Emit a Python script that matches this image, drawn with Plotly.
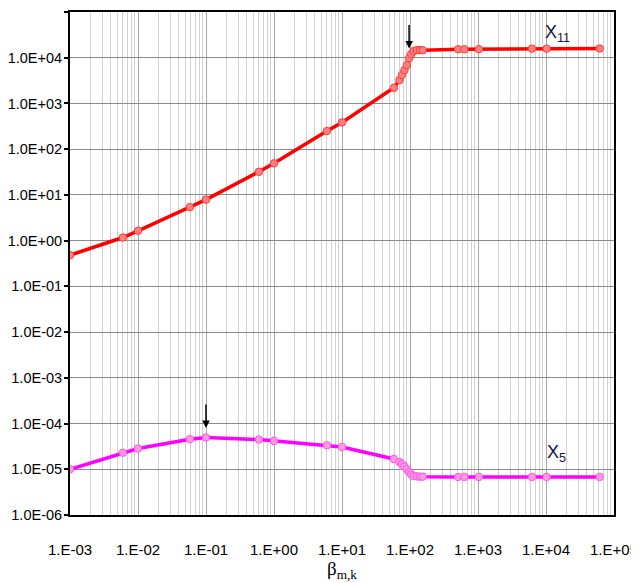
import numpy as np
import plotly.graph_objects as go

# ---- data ----
beta = [0.001, 0.006, 0.01, 0.058, 0.1, 0.6, 1.0, 6.0, 10.0,
        58, 70, 76, 83, 90, 97, 104, 113, 126, 140, 154,
        510, 630, 1030, 6200, 10200, 61600]
chi11 = [0.48, 1.17, 1.64, 5.4, 7.9, 32, 49, 249, 385,
         2200, 3250, 4170, 5360, 6890, 9700, 12000, 14000, 14700, 14700, 14600,
         15300, 15300, 15400, 15800, 15800, 15900]
chi5 = [1.0e-5, 2.3e-5, 2.84e-5, 4.54e-5, 4.94e-5, 4.47e-5, 4.17e-5, 3.35e-5, 3.08e-5,
        1.68e-5, 1.44e-5, 1.3e-5, 1.15e-5, 1.0e-5, 8.7e-6, 7.7e-6, 7.1e-6, 7.0e-6, 6.9e-6, 6.9e-6,
        6.8e-6, 6.8e-6, 6.8e-6, 6.8e-6, 6.8e-6, 6.8e-6]

x_tickvals = [1e-3, 1e-2, 1e-1, 1e0, 1e1, 1e2, 1e3, 1e4, 1e5]
x_ticktext = ["1.E-03", "1.E-02", "1.E-01", "1.E+00", "1.E+01",
              "1.E+02", "1.E+03", "1.E+04", "1.E+05"]
y_tickvals = [1e-6, 1e-5, 1e-4, 1e-3, 1e-2, 1e-1, 1e0, 1e1, 1e2, 1e3, 1e4, 1e5]
y_ticktext = ["1.0E-06", "1.0E-05", "1.0E-04", "1.0E-03", "1.0E-02", "1.0E-01",
              "1.0E+00", "1.0E+01", "1.0E+02", "1.0E+03", "1.0E+04", "1.0E+05"]

arrow_x = [97, 0.1]
arrow_y = [16000, 8.0e-5]

minor_x = [m * d for d in x_tickvals[:-1] for m in range(2, 10)]

fig = go.Figure()
fig.add_trace(go.Scatter(
    x=beta, y=chi11, mode="lines+markers", name="χ11",
    line=dict(color="#ff0000", width=3.5),
    marker=dict(size=7.5, color="#ff8080", line=dict(color="#ff3b3b", width=1)),
))
fig.add_trace(go.Scatter(
    x=beta, y=chi5, mode="lines+markers", name="χ5",
    line=dict(color="#ff00ff", width=3.5),
    marker=dict(size=7.5, color="#ff99dd", line=dict(color="#ff55ee", width=1)),
))

for ax_, ay_ in zip(arrow_x, arrow_y):
    fig.add_annotation(x=np.log10(ax_), y=np.log10(ay_), xref="x", yref="y",
                       text="", showarrow=True, ax=0, ay=-25,
                       arrowhead=2, arrowsize=1, arrowwidth=1.5, arrowcolor="black")

fig.add_annotation(x=0.922, y=0.93, xref="paper", yref="paper", yanchor="bottom",
                   text="X<sub>11</sub>",
                   showarrow=False, font=dict(family="Liberation Sans", size=18, color="#14143c"))
fig.add_annotation(x=0.915, y=0.095, xref="paper", yref="paper", yanchor="bottom",
                   text="X<sub>5</sub>",
                   showarrow=False, font=dict(family="Liberation Sans", size=18, color="#14143c"))

# page body has an 8px margin, so the figure is sized to fit inside the 639x583 window
fig.update_layout(
    width=631, height=575,
    margin=dict(l=62, r=25, t=4, b=68),
    paper_bgcolor="white", plot_bgcolor="white",
    showlegend=False,
    font=dict(family="Liberation Sans", color="black"),
    xaxis=dict(
        type="log", range=[-3, 5], automargin=False,
        tickmode="array", tickvals=x_tickvals, ticktext=x_ticktext,
        tickfont=dict(size=15, family="Liberation Sans"),
        ticks="", ticklabelstandoff=20, ticklabeloverflow="allow",
        showgrid=True, gridcolor="#a8a8a8", gridwidth=1,
        minor=dict(tickvals=minor_x, showgrid=True, gridcolor="#d2d2d2", gridwidth=1, ticks=""),
        showline=True, linecolor="black", linewidth=2, mirror=True,
        zeroline=False,
        title=dict(text="β<sub>m,k</sub>", font=dict(family="Liberation Serif", size=19), standoff=1),
    ),
    yaxis=dict(
        type="log", range=[-6, 5], automargin=False,
        tickmode="array", tickvals=y_tickvals, ticktext=y_ticktext,
        tickfont=dict(size=14.5, family="Liberation Sans"),
        ticks="outside", ticklen=4, tickwidth=1.5, tickcolor="black",
        ticklabelstandoff=-1,
        showgrid=True, gridcolor="#8c8c8c", gridwidth=1,
        showline=True, linecolor="black", linewidth=2, mirror=True,
        zeroline=False,
    ),
)

fig.write_html("out.html")
